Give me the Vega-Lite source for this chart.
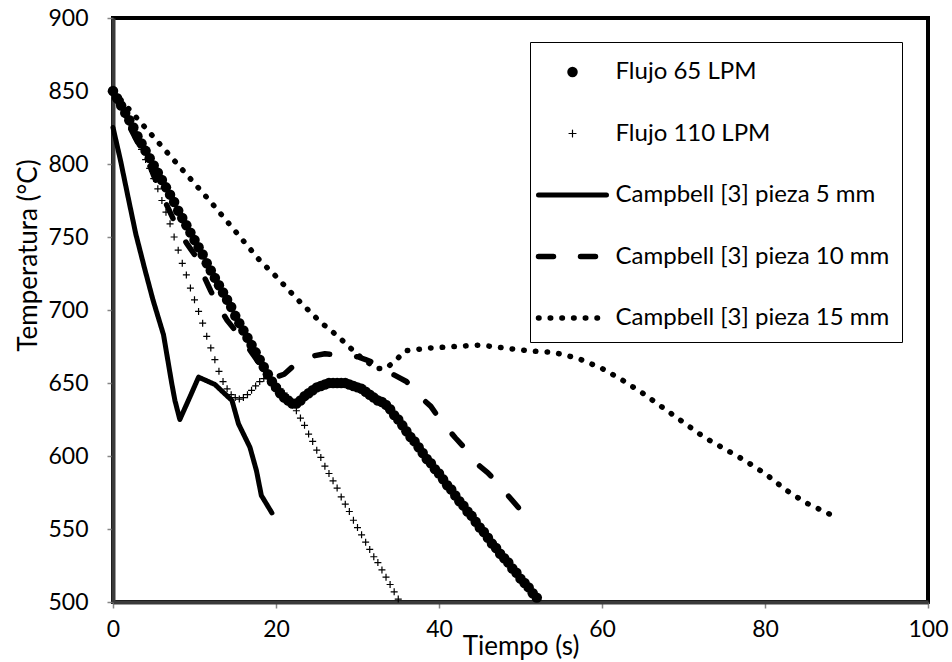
{
  "$schema": "https://vega.github.io/schema/vega-lite/v6.json",
  "width": 815,
  "height": 584,
  "autosize": {"type": "none"},
  "padding": {"left": 113, "top": 18, "right": 24, "bottom": 60},
  "background": "white",
  "config": {
    "view": {"stroke": "#000", "strokeWidth": 4},
    "font": "Lato",
    "axis": {"grid": false, "domainColor": "#3a3a3a", "domainWidth": 4, "tickColor": "#868686", "tickWidth": 1.5, "tickSize": 6, "labelColor": "#000", "labelFont": "Lato", "labelFontSize": 23, "labelFlush": false, "titleFont": "Lato", "titleFontSize": 26, "titleFontWeight": "normal", "titleColor": "#000"},
    "legend": {"orient": "none", "legendX": 417, "legendY": 24, "padding": 12, "gridAlign": "all", "strokeColor": "#000", "strokeWidth": 1, "fillColor": "#fff", "cornerRadius": 0, "labelFont": "Lato", "labelFontSize": 24, "labelColor": "#000", "labelLimit": 500, "labelOffset": 6, "symbolOffset": -6.5, "rowPadding": 31.5, "symbolStrokeColor": "#000"}
  },
  "data": {"values": [
    {"s":"Flujo 65 LPM","t":0,"v":850},{"s":"Flujo 65 LPM","t":0.5,"v":845},{"s":"Flujo 65 LPM","t":1,"v":840},{"s":"Flujo 65 LPM","t":1.5,"v":835},{"s":"Flujo 65 LPM","t":2,"v":830},{"s":"Flujo 65 LPM","t":2.5,"v":825},{"s":"Flujo 65 LPM","t":3,"v":819},{"s":"Flujo 65 LPM","t":3.5,"v":814},{"s":"Flujo 65 LPM","t":4,"v":809},{"s":"Flujo 65 LPM","t":4.5,"v":804},{"s":"Flujo 65 LPM","t":5,"v":799},{"s":"Flujo 65 LPM","t":5.5,"v":794},{"s":"Flujo 65 LPM","t":6,"v":789},{"s":"Flujo 65 LPM","t":6.5,"v":784},{"s":"Flujo 65 LPM","t":7,"v":779},{"s":"Flujo 65 LPM","t":7.5,"v":774},{"s":"Flujo 65 LPM","t":8,"v":768},{"s":"Flujo 65 LPM","t":8.5,"v":763},{"s":"Flujo 65 LPM","t":9,"v":758},{"s":"Flujo 65 LPM","t":9.5,"v":753},{"s":"Flujo 65 LPM","t":10,"v":748},{"s":"Flujo 65 LPM","t":10.5,"v":743},{"s":"Flujo 65 LPM","t":11,"v":738},{"s":"Flujo 65 LPM","t":11.5,"v":732},{"s":"Flujo 65 LPM","t":12,"v":727},{"s":"Flujo 65 LPM","t":12.5,"v":722},{"s":"Flujo 65 LPM","t":13,"v":717},{"s":"Flujo 65 LPM","t":13.5,"v":712},{"s":"Flujo 65 LPM","t":14,"v":707},{"s":"Flujo 65 LPM","t":14.5,"v":702},{"s":"Flujo 65 LPM","t":15,"v":696},{"s":"Flujo 65 LPM","t":15.5,"v":691},{"s":"Flujo 65 LPM","t":16,"v":686},{"s":"Flujo 65 LPM","t":16.5,"v":681},{"s":"Flujo 65 LPM","t":17,"v":676},{"s":"Flujo 65 LPM","t":17.5,"v":671},{"s":"Flujo 65 LPM","t":18,"v":666},{"s":"Flujo 65 LPM","t":18.5,"v":661},{"s":"Flujo 65 LPM","t":19,"v":656},{"s":"Flujo 65 LPM","t":19.5,"v":651},{"s":"Flujo 65 LPM","t":20,"v":647},{"s":"Flujo 65 LPM","t":20.5,"v":643},{"s":"Flujo 65 LPM","t":21,"v":640},{"s":"Flujo 65 LPM","t":21.5,"v":638},{"s":"Flujo 65 LPM","t":22,"v":636},{"s":"Flujo 65 LPM","t":22.5,"v":636},{"s":"Flujo 65 LPM","t":23,"v":638},{"s":"Flujo 65 LPM","t":23.5,"v":641},{"s":"Flujo 65 LPM","t":24,"v":643},{"s":"Flujo 65 LPM","t":24.5,"v":645},{"s":"Flujo 65 LPM","t":25,"v":647},{"s":"Flujo 65 LPM","t":25.5,"v":648},{"s":"Flujo 65 LPM","t":26,"v":649},{"s":"Flujo 65 LPM","t":26.5,"v":650},{"s":"Flujo 65 LPM","t":27,"v":650},{"s":"Flujo 65 LPM","t":27.5,"v":650},{"s":"Flujo 65 LPM","t":28,"v":650},{"s":"Flujo 65 LPM","t":28.5,"v":650},{"s":"Flujo 65 LPM","t":29,"v":649},{"s":"Flujo 65 LPM","t":29.5,"v":648},{"s":"Flujo 65 LPM","t":30,"v":647},{"s":"Flujo 65 LPM","t":30.5,"v":646},{"s":"Flujo 65 LPM","t":31,"v":644},{"s":"Flujo 65 LPM","t":31.5,"v":642},{"s":"Flujo 65 LPM","t":32,"v":640},{"s":"Flujo 65 LPM","t":32.5,"v":638},{"s":"Flujo 65 LPM","t":33,"v":637},{"s":"Flujo 65 LPM","t":33.5,"v":635},{"s":"Flujo 65 LPM","t":34,"v":632},{"s":"Flujo 65 LPM","t":34.5,"v":628},{"s":"Flujo 65 LPM","t":35,"v":625},{"s":"Flujo 65 LPM","t":35.5,"v":621},{"s":"Flujo 65 LPM","t":36,"v":617},{"s":"Flujo 65 LPM","t":36.5,"v":613},{"s":"Flujo 65 LPM","t":37,"v":610},{"s":"Flujo 65 LPM","t":37.5,"v":606},{"s":"Flujo 65 LPM","t":38,"v":602},{"s":"Flujo 65 LPM","t":38.5,"v":598},{"s":"Flujo 65 LPM","t":39,"v":595},{"s":"Flujo 65 LPM","t":39.5,"v":591},{"s":"Flujo 65 LPM","t":40,"v":588},{"s":"Flujo 65 LPM","t":40.5,"v":584},{"s":"Flujo 65 LPM","t":41,"v":580},{"s":"Flujo 65 LPM","t":41.5,"v":577},{"s":"Flujo 65 LPM","t":42,"v":573},{"s":"Flujo 65 LPM","t":42.5,"v":569},{"s":"Flujo 65 LPM","t":43,"v":566},{"s":"Flujo 65 LPM","t":43.5,"v":562},{"s":"Flujo 65 LPM","t":44,"v":559},{"s":"Flujo 65 LPM","t":44.5,"v":555},{"s":"Flujo 65 LPM","t":45,"v":551},{"s":"Flujo 65 LPM","t":45.5,"v":548},{"s":"Flujo 65 LPM","t":46,"v":544},{"s":"Flujo 65 LPM","t":46.5,"v":540},{"s":"Flujo 65 LPM","t":47,"v":537},{"s":"Flujo 65 LPM","t":47.5,"v":533},{"s":"Flujo 65 LPM","t":48,"v":530},{"s":"Flujo 65 LPM","t":48.5,"v":527},{"s":"Flujo 65 LPM","t":49,"v":523},{"s":"Flujo 65 LPM","t":49.5,"v":520},{"s":"Flujo 65 LPM","t":50,"v":516},{"s":"Flujo 65 LPM","t":50.5,"v":513},{"s":"Flujo 65 LPM","t":51,"v":510},{"s":"Flujo 65 LPM","t":51.5,"v":506},{"s":"Flujo 65 LPM","t":52,"v":503},
    {"s":"Flujo 110 LPM","t":0,"v":850},{"s":"Flujo 110 LPM","t":0.5,"v":845},{"s":"Flujo 110 LPM","t":1,"v":839},{"s":"Flujo 110 LPM","t":1.5,"v":833},{"s":"Flujo 110 LPM","t":2,"v":828},{"s":"Flujo 110 LPM","t":2.5,"v":822},{"s":"Flujo 110 LPM","t":3,"v":816},{"s":"Flujo 110 LPM","t":3.5,"v":810},{"s":"Flujo 110 LPM","t":4,"v":803},{"s":"Flujo 110 LPM","t":4.5,"v":797},{"s":"Flujo 110 LPM","t":5,"v":790},{"s":"Flujo 110 LPM","t":5.5,"v":783},{"s":"Flujo 110 LPM","t":6,"v":775},{"s":"Flujo 110 LPM","t":6.5,"v":767},{"s":"Flujo 110 LPM","t":7,"v":759},{"s":"Flujo 110 LPM","t":7.5,"v":750},{"s":"Flujo 110 LPM","t":8,"v":741},{"s":"Flujo 110 LPM","t":8.5,"v":732},{"s":"Flujo 110 LPM","t":9,"v":724},{"s":"Flujo 110 LPM","t":9.5,"v":715},{"s":"Flujo 110 LPM","t":10,"v":707},{"s":"Flujo 110 LPM","t":10.5,"v":699},{"s":"Flujo 110 LPM","t":11,"v":691},{"s":"Flujo 110 LPM","t":11.5,"v":682},{"s":"Flujo 110 LPM","t":12,"v":674},{"s":"Flujo 110 LPM","t":12.5,"v":666},{"s":"Flujo 110 LPM","t":13,"v":658},{"s":"Flujo 110 LPM","t":13.5,"v":651},{"s":"Flujo 110 LPM","t":14,"v":646},{"s":"Flujo 110 LPM","t":14.5,"v":642},{"s":"Flujo 110 LPM","t":15,"v":640},{"s":"Flujo 110 LPM","t":15.5,"v":639},{"s":"Flujo 110 LPM","t":16,"v":640},{"s":"Flujo 110 LPM","t":16.5,"v":642},{"s":"Flujo 110 LPM","t":17,"v":645},{"s":"Flujo 110 LPM","t":17.5,"v":648},{"s":"Flujo 110 LPM","t":18,"v":651},{"s":"Flujo 110 LPM","t":18.5,"v":653},{"s":"Flujo 110 LPM","t":19,"v":653},{"s":"Flujo 110 LPM","t":19.5,"v":651},{"s":"Flujo 110 LPM","t":20,"v":648},{"s":"Flujo 110 LPM","t":20.5,"v":646},{"s":"Flujo 110 LPM","t":21,"v":643},{"s":"Flujo 110 LPM","t":21.5,"v":640},{"s":"Flujo 110 LPM","t":22,"v":635},{"s":"Flujo 110 LPM","t":22.5,"v":631},{"s":"Flujo 110 LPM","t":23,"v":626},{"s":"Flujo 110 LPM","t":23.5,"v":621},{"s":"Flujo 110 LPM","t":24,"v":615},{"s":"Flujo 110 LPM","t":24.5,"v":610},{"s":"Flujo 110 LPM","t":25,"v":604},{"s":"Flujo 110 LPM","t":25.5,"v":599},{"s":"Flujo 110 LPM","t":26,"v":593},{"s":"Flujo 110 LPM","t":26.5,"v":588},{"s":"Flujo 110 LPM","t":27,"v":583},{"s":"Flujo 110 LPM","t":27.5,"v":578},{"s":"Flujo 110 LPM","t":28,"v":572},{"s":"Flujo 110 LPM","t":28.5,"v":567},{"s":"Flujo 110 LPM","t":29,"v":562},{"s":"Flujo 110 LPM","t":29.5,"v":556},{"s":"Flujo 110 LPM","t":30,"v":551},{"s":"Flujo 110 LPM","t":30.5,"v":546},{"s":"Flujo 110 LPM","t":31,"v":541},{"s":"Flujo 110 LPM","t":31.5,"v":536},{"s":"Flujo 110 LPM","t":32,"v":531},{"s":"Flujo 110 LPM","t":32.5,"v":527},{"s":"Flujo 110 LPM","t":33,"v":522},{"s":"Flujo 110 LPM","t":33.5,"v":517},{"s":"Flujo 110 LPM","t":34,"v":512},{"s":"Flujo 110 LPM","t":34.5,"v":507},{"s":"Flujo 110 LPM","t":35,"v":502},
    {"s":"Campbell [3] pieza 5 mm","t":0,"v":825},{"s":"Campbell [3] pieza 5 mm","t":0.9,"v":803},{"s":"Campbell [3] pieza 5 mm","t":1.9,"v":776},{"s":"Campbell [3] pieza 5 mm","t":2.8,"v":752},{"s":"Campbell [3] pieza 5 mm","t":3.9,"v":728},{"s":"Campbell [3] pieza 5 mm","t":4.9,"v":707},{"s":"Campbell [3] pieza 5 mm","t":6.2,"v":683},{"s":"Campbell [3] pieza 5 mm","t":7.2,"v":650},{"s":"Campbell [3] pieza 5 mm","t":7.6,"v":638},{"s":"Campbell [3] pieza 5 mm","t":8.2,"v":625},{"s":"Campbell [3] pieza 5 mm","t":9.4,"v":640},{"s":"Campbell [3] pieza 5 mm","t":10.5,"v":654},{"s":"Campbell [3] pieza 5 mm","t":12.5,"v":649},{"s":"Campbell [3] pieza 5 mm","t":14.6,"v":638},{"s":"Campbell [3] pieza 5 mm","t":15.4,"v":622},{"s":"Campbell [3] pieza 5 mm","t":16.8,"v":606},{"s":"Campbell [3] pieza 5 mm","t":17.6,"v":590},{"s":"Campbell [3] pieza 5 mm","t":18.2,"v":573},{"s":"Campbell [3] pieza 5 mm","t":19.5,"v":561},
    {"s":"Campbell [3] pieza 10 mm","t":0,"v":850},{"s":"Campbell [3] pieza 10 mm","t":1,"v":837},{"s":"Campbell [3] pieza 10 mm","t":2,"v":826},{"s":"Campbell [3] pieza 10 mm","t":3,"v":815},{"s":"Campbell [3] pieza 10 mm","t":4,"v":806},{"s":"Campbell [3] pieza 10 mm","t":5,"v":792},{"s":"Campbell [3] pieza 10 mm","t":6,"v":779},{"s":"Campbell [3] pieza 10 mm","t":7,"v":767},{"s":"Campbell [3] pieza 10 mm","t":8,"v":755},{"s":"Campbell [3] pieza 10 mm","t":9,"v":746},{"s":"Campbell [3] pieza 10 mm","t":10,"v":738},{"s":"Campbell [3] pieza 10 mm","t":11,"v":725},{"s":"Campbell [3] pieza 10 mm","t":12,"v":713},{"s":"Campbell [3] pieza 10 mm","t":13,"v":702},{"s":"Campbell [3] pieza 10 mm","t":14,"v":693},{"s":"Campbell [3] pieza 10 mm","t":15,"v":686},{"s":"Campbell [3] pieza 10 mm","t":16,"v":679},{"s":"Campbell [3] pieza 10 mm","t":17,"v":671},{"s":"Campbell [3] pieza 10 mm","t":18,"v":663},{"s":"Campbell [3] pieza 10 mm","t":19,"v":657},{"s":"Campbell [3] pieza 10 mm","t":20,"v":654},{"s":"Campbell [3] pieza 10 mm","t":21,"v":656},{"s":"Campbell [3] pieza 10 mm","t":22,"v":661},{"s":"Campbell [3] pieza 10 mm","t":23,"v":666},{"s":"Campbell [3] pieza 10 mm","t":24,"v":668},{"s":"Campbell [3] pieza 10 mm","t":26,"v":670},{"s":"Campbell [3] pieza 10 mm","t":28,"v":669},{"s":"Campbell [3] pieza 10 mm","t":30,"v":668},{"s":"Campbell [3] pieza 10 mm","t":31,"v":666},{"s":"Campbell [3] pieza 10 mm","t":32,"v":664},{"s":"Campbell [3] pieza 10 mm","t":33,"v":661},{"s":"Campbell [3] pieza 10 mm","t":34,"v":657},{"s":"Campbell [3] pieza 10 mm","t":35,"v":654},{"s":"Campbell [3] pieza 10 mm","t":36,"v":651},{"s":"Campbell [3] pieza 10 mm","t":37,"v":645.5},{"s":"Campbell [3] pieza 10 mm","t":38,"v":639},{"s":"Campbell [3] pieza 10 mm","t":39,"v":634},{"s":"Campbell [3] pieza 10 mm","t":40,"v":626},{"s":"Campbell [3] pieza 10 mm","t":41,"v":619},{"s":"Campbell [3] pieza 10 mm","t":42,"v":612.5},{"s":"Campbell [3] pieza 10 mm","t":43,"v":606.5},{"s":"Campbell [3] pieza 10 mm","t":44,"v":599.5},{"s":"Campbell [3] pieza 10 mm","t":45,"v":593},{"s":"Campbell [3] pieza 10 mm","t":46,"v":588.5},{"s":"Campbell [3] pieza 10 mm","t":47,"v":582.5},{"s":"Campbell [3] pieza 10 mm","t":48,"v":576},{"s":"Campbell [3] pieza 10 mm","t":49,"v":569.5},{"s":"Campbell [3] pieza 10 mm","t":50,"v":563},{"s":"Campbell [3] pieza 10 mm","t":51,"v":557},
    {"s":"Campbell [3] pieza 15 mm","t":0,"v":850},{"s":"Campbell [3] pieza 15 mm","t":3,"v":831},{"s":"Campbell [3] pieza 15 mm","t":6,"v":812},{"s":"Campbell [3] pieza 15 mm","t":9,"v":793},{"s":"Campbell [3] pieza 15 mm","t":12,"v":774},{"s":"Campbell [3] pieza 15 mm","t":15,"v":754},{"s":"Campbell [3] pieza 15 mm","t":18,"v":734},{"s":"Campbell [3] pieza 15 mm","t":20,"v":723},{"s":"Campbell [3] pieza 15 mm","t":22.5,"v":708},{"s":"Campbell [3] pieza 15 mm","t":25.4,"v":692},{"s":"Campbell [3] pieza 15 mm","t":27.6,"v":682},{"s":"Campbell [3] pieza 15 mm","t":29.9,"v":670},{"s":"Campbell [3] pieza 15 mm","t":31,"v":665},{"s":"Campbell [3] pieza 15 mm","t":32.4,"v":660},{"s":"Campbell [3] pieza 15 mm","t":33.5,"v":660},{"s":"Campbell [3] pieza 15 mm","t":34.8,"v":666},{"s":"Campbell [3] pieza 15 mm","t":35.8,"v":672},{"s":"Campbell [3] pieza 15 mm","t":39,"v":674},{"s":"Campbell [3] pieza 15 mm","t":42,"v":675},{"s":"Campbell [3] pieza 15 mm","t":45,"v":676},{"s":"Campbell [3] pieza 15 mm","t":48,"v":674},{"s":"Campbell [3] pieza 15 mm","t":51,"v":672},{"s":"Campbell [3] pieza 15 mm","t":54,"v":671},{"s":"Campbell [3] pieza 15 mm","t":57,"v":667},{"s":"Campbell [3] pieza 15 mm","t":60,"v":660},{"s":"Campbell [3] pieza 15 mm","t":62.5,"v":652},{"s":"Campbell [3] pieza 15 mm","t":65,"v":643},{"s":"Campbell [3] pieza 15 mm","t":67.5,"v":633},{"s":"Campbell [3] pieza 15 mm","t":70,"v":623},{"s":"Campbell [3] pieza 15 mm","t":72.5,"v":613},{"s":"Campbell [3] pieza 15 mm","t":75,"v":605},{"s":"Campbell [3] pieza 15 mm","t":77.5,"v":597},{"s":"Campbell [3] pieza 15 mm","t":80,"v":588},{"s":"Campbell [3] pieza 15 mm","t":82.5,"v":577},{"s":"Campbell [3] pieza 15 mm","t":85,"v":568},{"s":"Campbell [3] pieza 15 mm","t":88,"v":560}
  ]},
  "encoding": {
    "x": {"field": "t", "type": "quantitative", "scale": {"domain": [0, 100], "nice": false}, "axis": {"values": [0, 20, 40, 60, 80, 100], "title": "Tiempo (s)", "labelPadding": 10, "titleY": 52, "titleBaseline": "alphabetic"}},
    "y": {"field": "v", "type": "quantitative", "scale": {"domain": [500, 900], "nice": false, "zero": false}, "axis": {"values": [500, 550, 600, 650, 700, 750, 800, 850, 900], "title": "Temperatura (°C)", "labelPadding": 19, "titleX": -85, "titleY": 237, "titleAngle": -90, "titleAlign": "center", "titleBaseline": "middle"}}
  },
  "layer": [
    {
      "transform": [{"filter": {"field": "s", "oneOf": ["Campbell [3] pieza 5 mm", "Campbell [3] pieza 10 mm", "Campbell [3] pieza 15 mm"]}}],
      "mark": {"type": "line", "stroke": "#000", "strokeCap": "round", "strokeJoin": "round"},
      "encoding": {
        "strokeDash": {"field": "s", "type": "nominal", "title": null, "scale": {"domain": ["Flujo 65 LPM", "Flujo 110 LPM", "Campbell [3] pieza 5 mm", "Campbell [3] pieza 10 mm", "Campbell [3] pieza 15 mm"], "range": [[1, 0], [1, 0], [1, 0], [15, 27], [0.5, 11.2]]}, "legend": {"encode": {"symbols": {"update": {"y": {"value": 18}, "strokeCap": {"value": "round"}, "strokeJoin": {"value": "round"}, "stroke": {"value": "#000"}}}, "labels": {"update": {"y": {"value": 18}}}}}},
        "strokeWidth": {"field": "s", "type": "nominal", "title": null, "scale": {"type": "ordinal", "domain": ["Flujo 65 LPM", "Flujo 110 LPM", "Campbell [3] pieza 5 mm", "Campbell [3] pieza 10 mm", "Campbell [3] pieza 15 mm"], "range": [0, 1.2, 5, 5.5, 5.5]}, "legend": {"encode": {"symbols": {"update": {"y": {"value": 18}, "strokeCap": {"value": "round"}, "strokeJoin": {"value": "round"}, "stroke": {"value": "#000"}}}, "labels": {"update": {"y": {"value": 18}}}}}}
      }
    },
    {
      "transform": [{"filter": {"field": "s", "oneOf": ["Flujo 65 LPM", "Flujo 110 LPM"]}}],
      "mark": {"type": "point", "filled": true, "stroke": "#000", "opacity": 1},
      "encoding": {
        "shape": {"field": "s", "type": "nominal", "title": null, "scale": {"domain": ["Flujo 65 LPM", "Flujo 110 LPM", "Campbell [3] pieza 5 mm", "Campbell [3] pieza 10 mm", "Campbell [3] pieza 15 mm"], "range": ["circle", "M-1,0H1M0,-1V1", "M-1,0H1", "M-1,0H1", "M-1,0H1"]}, "legend": {"encode": {"symbols": {"update": {"y": {"value": 18}, "strokeCap": {"value": "round"}, "strokeJoin": {"value": "round"}, "stroke": {"value": "#000"}}}, "labels": {"update": {"y": {"value": 18}}}}}},
        "size": {"field": "s", "type": "nominal", "title": null, "scale": {"type": "ordinal", "domain": ["Flujo 65 LPM", "Flujo 110 LPM", "Campbell [3] pieza 5 mm", "Campbell [3] pieza 10 mm", "Campbell [3] pieza 15 mm"], "range": [110, 49, 4624, 4624, 4624]}, "legend": {"encode": {"symbols": {"update": {"y": {"value": 18}, "strokeCap": {"value": "round"}, "strokeJoin": {"value": "round"}, "stroke": {"value": "#000"}}}, "labels": {"update": {"y": {"value": 18}}}}}},
        "fill": {"field": "s", "type": "nominal", "title": null, "scale": {"domain": ["Flujo 65 LPM", "Flujo 110 LPM", "Campbell [3] pieza 5 mm", "Campbell [3] pieza 10 mm", "Campbell [3] pieza 15 mm"], "range": ["#000", "transparent", "transparent", "transparent", "transparent"]}, "legend": {"encode": {"symbols": {"update": {"y": {"value": 18}, "strokeCap": {"value": "round"}, "strokeJoin": {"value": "round"}, "stroke": {"value": "#000"}}}, "labels": {"update": {"y": {"value": 18}}}}}},
        "strokeWidth": {"field": "s", "type": "nominal", "title": null, "scale": {"type": "ordinal", "domain": ["Flujo 65 LPM", "Flujo 110 LPM", "Campbell [3] pieza 5 mm", "Campbell [3] pieza 10 mm", "Campbell [3] pieza 15 mm"], "range": [0, 1.2, 5, 5.5, 5.5]}, "legend": {"encode": {"symbols": {"update": {"y": {"value": 18}, "strokeCap": {"value": "round"}, "strokeJoin": {"value": "round"}, "stroke": {"value": "#000"}}}, "labels": {"update": {"y": {"value": 18}}}}}}
      }
    }
  ]
}
